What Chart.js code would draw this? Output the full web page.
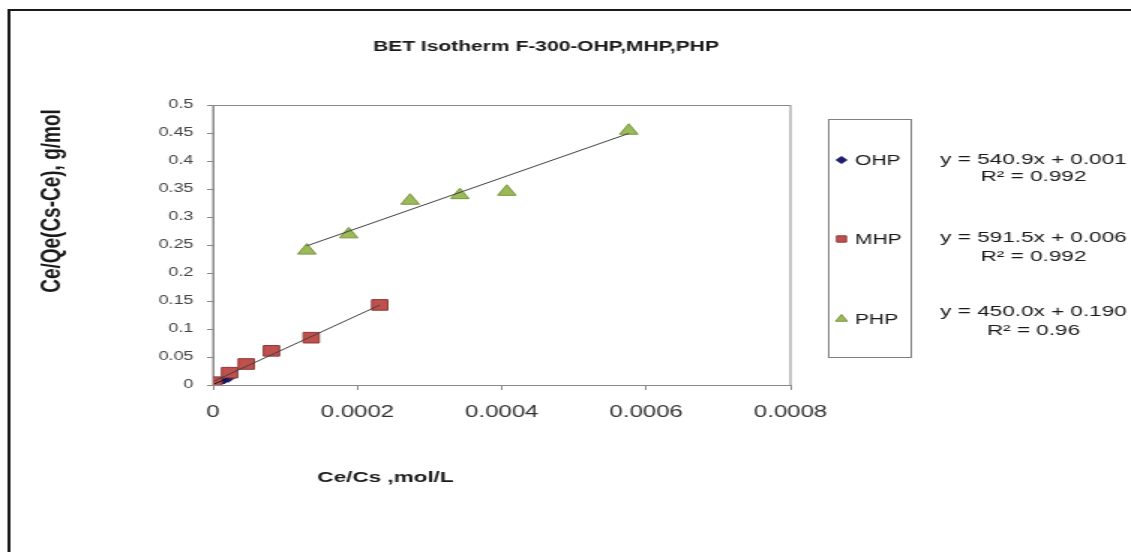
<!DOCTYPE html>
<html>
<head>
<meta charset="utf-8">
<title>BET Isotherm F-300-OHP,MHP,PHP</title>
<script src="https://cdn.jsdelivr.net/npm/chart.js@4.4.1/dist/chart.umd.min.js"></script>
<style>
  html, body { margin: 0; padding: 0; background: #fff; overflow: hidden; }
  /* the original picture is stretched sideways, so the canvas is drawn narrow and shown wide */
  #chart { display: block; width: 1131px !important; height: 552px !important; }
</style>
</head>
<body>
<canvas id="chart" width="754" height="552" style="width:1131px;height:552px"></canvas>
<script>
// data
const seriesNames = ['OHP', 'MHP', 'PHP'];

const ohpX = [0.000002, 0.000006, 0.000010, 0.000015, 0.000021];
const ohpY = [0.002, 0.004, 0.007, 0.009, 0.012];

const mhpX = [0.0000014, 0.000023, 0.000046, 0.000081, 0.000136, 0.000231];
const mhpY = [0.005, 0.022, 0.0375, 0.061, 0.0845, 0.143];

const phpX = [0.000130, 0.000188, 0.000273, 0.000342, 0.000407, 0.000576];
const phpY = [0.240, 0.269, 0.329, 0.339, 0.345, 0.454];

// linear trendlines as printed on the chart
const slopes = [540.9, 591.5, 450.0];
const intercepts = [0.001, 0.006, 0.190];
const r2Labels = ['0.992', '0.992', '0.96'];

const xTickLabels = ['0', '0.0002', '0.0004', '0.0006', '0.0008'];
const yTickLabels = ['0', '0.05', '0.1', '0.15', '0.2', '0.25', '0.3', '0.35', '0.4', '0.45', '0.5'];

const FONT = '"Liberation Sans", Arial, sans-serif';

function toPoints(xs, ys) {
  return xs.map((x, i) => ({ x: x, y: ys[i] }));
}

function trendPoints(xs, k) {
  const lo = Math.min(...xs), hi = Math.max(...xs);
  return [lo, hi].map(x => ({ x: x, y: slopes[k] * x + intercepts[k] }));
}

const markers = [
  { style: 'rectRot', fill: '#1c1c78', border: '#10104a', radius: 4 },
  { style: 'rect', fill: '#c0504d', border: '#8c3836', radius: 7.5 },
  { style: 'triangle', fill: '#9bbb59', border: '#7a9640', radius: 7 }
];

const allX = [ohpX, mhpX, phpX];
const allY = [ohpY, mhpY, phpY];

const datasets = [];
seriesNames.forEach((name, k) => {
  datasets.push({
    label: name,
    data: toPoints(allX[k], allY[k]),
    showLine: false,
    pointStyle: markers[k].style,
    pointRadius: markers[k].radius,
    pointHoverRadius: markers[k].radius,
    backgroundColor: markers[k].fill,
    borderColor: markers[k].border,
    pointBorderWidth: 1,
    order: 3 - k
  });
});
seriesNames.forEach((name, k) => {
  datasets.push({
    label: name + ' trend',
    data: trendPoints(allX[k], k),
    showLine: true,
    pointRadius: 0,
    borderColor: k === 0 ? '#111111' : '#404040',
    borderWidth: 1,
    order: 0
  });
});

const eqLines = [[160, 177], [238, 257], [312, 331]];
const legendRows = [160, 239, 319];

const chartDecor = {
  id: 'chartDecor',
  beforeDraw(chart) {
    const ctx = chart.ctx;
    const a = chart.chartArea;
    ctx.save();
    ctx.fillStyle = '#ffffff';
    ctx.fillRect(0, 0, chart.width, chart.height);
    // outer frame (only top and left edges are in the picture)
    ctx.strokeStyle = '#1a1a1a';
    ctx.lineWidth = 2;
    ctx.beginPath();
    ctx.moveTo(6, chart.height + 5);
    ctx.lineTo(6, 10);
    ctx.lineTo(chart.width + 5, 10);
    ctx.stroke();
    // plot area box
    ctx.strokeStyle = '#8a8a8a';
    ctx.lineWidth = 1;
    ctx.strokeRect(a.left, a.top + 0.5, a.right - a.left, a.bottom - a.top);
    ctx.restore();
  },
  afterDraw(chart) {
    const ctx = chart.ctx;
    ctx.save();
    ctx.fillStyle = '#1a1a1a';
    ctx.textAlign = 'center';
    ctx.textBaseline = 'middle';

    ctx.font = 'bold 14px ' + FONT;
    ctx.fillText('BET Isotherm F-300-OHP,MHP,PHP', 364, 47);

    ctx.font = 'bold 15px ' + FONT;
    ctx.fillText('Ce/Cs ,mol/L', 257, 478);

    ctx.save();
    ctx.translate(35, 201);
    ctx.rotate(-Math.PI / 2);
    ctx.font = 'bold 19px ' + FONT;
    ctx.fillText('Ce/Qe(Cs-Ce), g/mol', 0, 0);
    ctx.restore();

    // legend box
    ctx.strokeStyle = '#808080';
    ctx.lineWidth = 1;
    ctx.strokeRect(552.5, 119.5, 55, 238);
    ctx.textAlign = 'left';
    ctx.font = '14px ' + FONT;
    seriesNames.forEach((name, k) => {
      const m = markers[k];
      ctx.fillStyle = m.fill;
      ctx.strokeStyle = m.border;
      ctx.lineWidth = 1;
      Chart.helpers.drawPoint(ctx, {
        pointStyle: m.style,
        radius: k === 0 ? 3.5 : 4.5,
        rotation: 0,
        borderWidth: 0.5
      }, 561, legendRows[k]);
      ctx.fillStyle = '#1a1a1a';
      ctx.fillText(name, 570, legendRows[k] + 1);
    });

    // trendline equations
    ctx.textAlign = 'center';
    ctx.font = '15px ' + FONT;
    seriesNames.forEach((name, k) => {
      const sign = intercepts[k] >= 0 ? '+' : '-';
      const eq = 'y = ' + slopes[k].toFixed(1) + 'x ' + sign + ' ' + Math.abs(intercepts[k]).toFixed(3);
      ctx.fillText(eq, 689, eqLines[k][0]);
      ctx.fillText('R\u00b2 = ' + r2Labels[k], 689, eqLines[k][1]);
    });
    ctx.restore();
  }
};

new Chart(document.getElementById('chart'), {
  type: 'scatter',
  data: { datasets: datasets },
  options: {
    responsive: false,
    devicePixelRatio: 1,
    animation: false,
    layout: { padding: { left: 0, top: 105, right: 227, bottom: 0 } },
    plugins: {
      legend: { display: false },
      title: { display: false },
      tooltip: { enabled: false }
    },
    scales: {
      x: {
        type: 'linear',
        min: 0,
        max: 0.0008,
        afterBuildTicks(scale) {
          scale.ticks = xTickLabels.map(t => ({ value: parseFloat(t) }));
        },
        afterFit(scale) { scale.height = 167; },
        ticks: {
          padding: 13,
          color: '#333333',
          font: { family: FONT, size: 16 },
          maxRotation: 0,
          callback: (v, i) => xTickLabels[i]
        },
        grid: { drawOnChartArea: false, tickLength: 5, color: '#8a8a8a' },
        border: { color: '#8a8a8a' }
      },
      y: {
        type: 'linear',
        min: 0,
        max: 0.5,
        afterBuildTicks(scale) {
          scale.ticks = yTickLabels.map(t => ({ value: parseFloat(t) }));
        },
        afterFit(scale) { scale.width = 142; },
        ticks: {
          padding: 9,
          color: '#444444',
          font: { family: FONT, size: 12 },
          callback: (v, i) => yTickLabels[i]
        },
        grid: { drawOnChartArea: false, tickLength: 4, color: '#8a8a8a' },
        border: { color: '#8a8a8a' }
      }
    }
  },
  plugins: [chartDecor]
});
</script>
</body>
</html>
